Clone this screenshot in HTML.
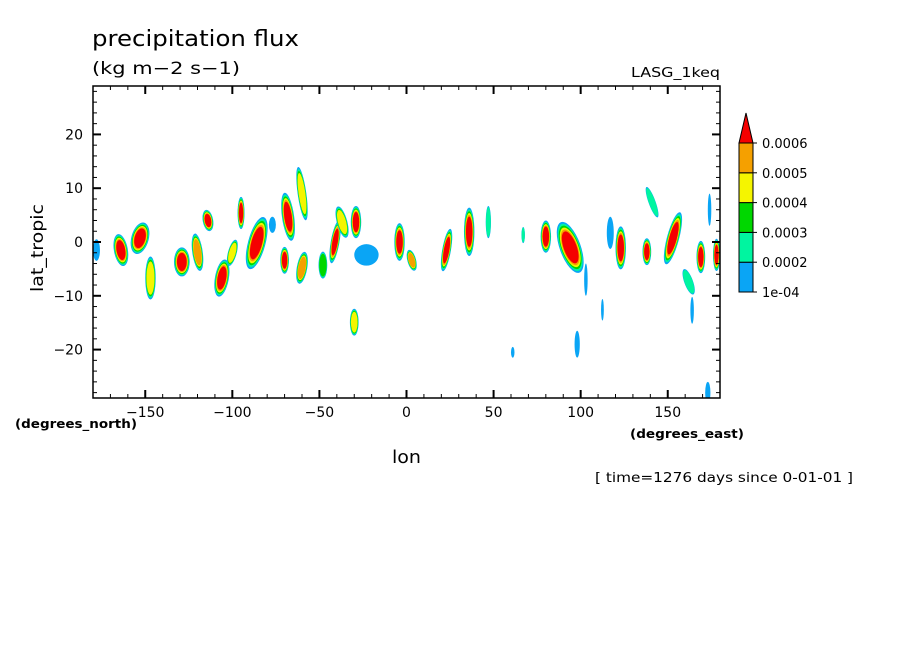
<!DOCTYPE html>
<html><head><meta charset="utf-8"><style>
body{margin:0;background:#fff;width:904px;height:654px;overflow:hidden}
svg{font-family:"DejaVu Sans","Liberation Sans",sans-serif}
</style></head><body>
<svg id="chart" width="904" height="654" viewBox="0 0 904 654">
<text x="92" y="46" font-size="22" textLength="207" lengthAdjust="spacingAndGlyphs">precipitation flux</text>
<text x="92" y="74" font-size="17" textLength="148" lengthAdjust="spacingAndGlyphs">(kg m−2 s−1)</text>
<text x="631" y="77" font-size="13" textLength="89" lengthAdjust="spacingAndGlyphs">LASG_1keq</text>
<text transform="translate(43,248) rotate(-90)" font-size="17" text-anchor="middle" textLength="88" lengthAdjust="spacingAndGlyphs">lat_tropic</text>
<text x="392" y="463" font-size="18" textLength="29" lengthAdjust="spacingAndGlyphs">lon</text>
<text x="15" y="428" font-size="12" font-weight="bold" textLength="122" lengthAdjust="spacingAndGlyphs">(degrees_north)</text>
<text x="630" y="438" font-size="12" font-weight="bold" textLength="114" lengthAdjust="spacingAndGlyphs">(degrees_east)</text>
<text x="595" y="482" font-size="13" textLength="258" lengthAdjust="spacingAndGlyphs">[ time=1276 days since 0-01-01 ]</text>
<g id="blobs"></g>
<g id="axes"></g>
<g id="cbar"></g>
</svg>
<script>
const blobLon=[-164,-153,-147,-129,-120,-114,-106,-100,-95,-86,-77,-68,-70,-60,-60,-48,-41,-37,-29,-23,-30,-4,-178,3,23,36,47,67,80,94,123,117,138,153,169,178,162,141,174,103,98,112.5,164,61,173];
const blobLat=[-1.5,0.7,-6.7,-3.7,-1.9,4,-6.7,-2,5.4,-0.2,3.2,4.7,-3.4,9,-4.8,-4.3,0,3.7,3.7,-2.4,-14.9,0,-1.5,-3.4,-1.5,1.9,3.7,1.3,1,-1,-1.1,1.7,-1.8,0.7,-2.8,-2.4,-7.4,7.4,6,-7,-19,-12.6,-12.7,-20.5,-28];
const blobRx=[4,5,3,4.5,3,3,4,2.5,2,5,2,3.5,2.5,2.5,3,2.5,2.5,3,3,7,2.5,3,2,2.5,2.5,3,1.5,1,3,6,3,2,2.5,3.5,2.5,2,2.5,2,1,1,1.5,0.8,1,1,1.5];
const blobRy=[3,3,4,2.7,3.5,2,3.5,2.5,3,5,1.5,4.5,2.5,5,3,2.5,4,3,3,2,2.5,3.5,2,2,4,4.5,3,1.5,3,5,4,3,2.5,5,3,3,2.5,3,3,3,2.5,2,2.5,1,2];
const blobLevel=[6,6,4,6,5,6,6,4,6,6,1,6,6,4,5,3,6,4,6,1,4,6,1,5,6,6,2,2,6,6,6,1,6,6,6,6,2,2,1,1,1,1,1,1,1];
const blobRot=[-10,15,0,0,-8,-10,10,15,0,15,0,-8,0,-8,10,0,10,-15,0,0,0,0,0,-15,10,0,0,0,0,-20,0,0,0,15,0,0,-20,-20,0,0,0,0,0,0,0];
const levelLabels=["1e-04","0.0002","0.0003","0.0004","0.0005","0.0006"];
const levelColors=["#0aa5f5","#00f5a0","#00d700","#f5f500","#f5a000","#f50000"];
const xTicks=[-150,-100,-50,0,50,100,150];
const yTicks=[-20,-10,0,10,20];
const NS="http://www.w3.org/2000/svg";
const X0=93,X1=720,Y0=86,Y1=398;
const lonMin=-180,lonMax=180,latMin=-29,latMax=29;
const sx=v=>X0+(v-lonMin)/(lonMax-lonMin)*(X1-X0);
const sy=v=>Y1-(v-latMin)/(latMax-latMin)*(Y1-Y0);
const pxLon=(X1-X0)/(lonMax-lonMin), pxLat=(Y1-Y0)/(latMax-latMin);
const mk=(t,a,p)=>{const e=document.createElementNS(NS,t);for(const k in a)e.setAttribute(k,a[k]);p.appendChild(e);return e;};
const gB=document.getElementById('blobs');
const clip=mk('clipPath',{id:'pc'},gB);mk('rect',{x:X0,y:Y0,width:X1-X0,height:Y1-Y0},clip);
const gc=mk('g',{'clip-path':'url(#pc)'},gB);
blobLon.forEach((lon,i)=>{
  const L=blobLevel[i];
  for(let k=1;k<=L;k++){
    const s=1-(k-1)*0.075;
    const e=mk('ellipse',{cx:sx(lon),cy:sy(blobLat[i]),rx:blobRx[i]*pxLon*s,ry:blobRy[i]*pxLat*s,fill:levelColors[k-1],transform:`rotate(${blobRot[i]} ${sx(lon)} ${sy(blobLat[i])})`},gc);
    
    
  }
});
const gA=document.getElementById('axes');
mk('rect',{x:X0,y:Y0,width:X1-X0,height:Y1-Y0,fill:'none',stroke:'#000','stroke-width':1.5},gA);
for(let v=lonMin;v<=lonMax;v+=10){const x=sx(v),maj=v%50===0,l=maj?8:4;
  mk('line',{x1:x,y1:Y1,x2:x,y2:Y1-l,stroke:'#000','stroke-width':maj?2:1},gA);
  mk('line',{x1:x,y1:Y0,x2:x,y2:Y0+l,stroke:'#000','stroke-width':maj?2:1},gA);}
for(let v=-28;v<=28;v+=2){const y=sy(v),maj=v%10===0,l=maj?8:4;
  mk('line',{x1:X0,y1:y,x2:X0+l,y2:y,stroke:'#000','stroke-width':maj?2:1},gA);
  mk('line',{x1:X1,y1:y,x2:X1-l,y2:y,stroke:'#000','stroke-width':maj?2:1},gA);}
xTicks.forEach(v=>{const t=mk('text',{x:sx(v),y:Y1+19,'font-size':14,'text-anchor':'middle'},gA);t.textContent=v<0?'−'+Math.abs(v):v;
  
  });
yTicks.forEach(v=>{const t=mk('text',{x:X0-10,y:sy(v)+5,'font-size':14,'text-anchor':'end'},gA);t.textContent=v<0?'−'+Math.abs(v):v;
  
  });
const gC=document.getElementById('cbar');
const cx=739,cw=14,ctop=143,cbot=292,nb=levelColors.length-1,h=(cbot-ctop)/nb;
for(let i=0;i<nb;i++){const y=cbot-(i+1)*h;
  const r=mk('rect',{x:cx,y:y,width:cw,height:h,fill:levelColors[i],stroke:'#000','stroke-width':1},gC);
  
  }
levelLabels.forEach((lab,i)=>{
  const t=mk('text',{x:762,y:cbot-i*h+5,'font-size':13},gC);t.textContent=lab;
  
  
  mk('line',{x1:cx+cw,y1:cbot-i*h,x2:cx+cw+4,y2:cbot-i*h,stroke:'#000'},gC);});
const tri=mk('polygon',{points:`${cx},${ctop} ${cx+cw},${ctop} ${cx+cw/2},${ctop-30}`,fill:levelColors[nb],stroke:'#000'},gC);


</script>
</body></html>
